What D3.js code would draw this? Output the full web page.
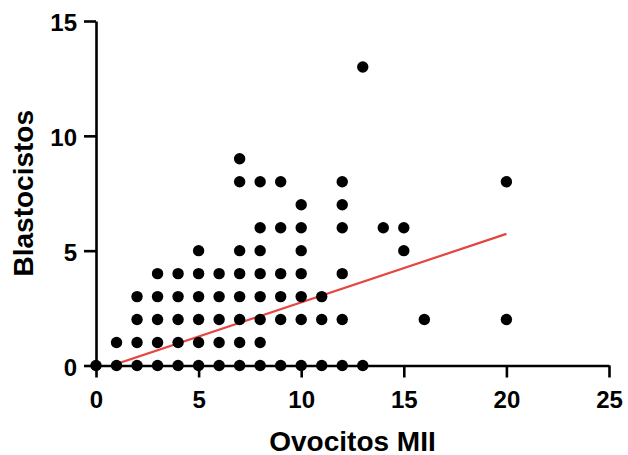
<!DOCTYPE html>
<html>
<head>
<meta charset="utf-8">
<script src="https://cdn.jsdelivr.net/npm/d3@7"></script>
<style>
  html, body { margin: 0; padding: 0; background: #fff; }
  svg { display: block; }
  text { font-family: "Liberation Sans", Arial, Helvetica, sans-serif; font-weight: bold; fill: #000; }
</style>
</head>
<body>
<svg id="chart" width="628" height="455"></svg>
<script>
// MII oocytes retrieved (x) and blastocysts obtained (y), one entry per distinct pair
const ovocitos = [
  0,
  1, 1,
  2, 2, 2, 2,
  3, 3, 3, 3, 3,
  4, 4, 4, 4, 4,
  5, 5, 5, 5, 5, 5,
  6, 6, 6, 6, 6,
  7, 7, 7, 7, 7, 7, 7, 7,
  8, 8, 8, 8, 8, 8, 8, 8,
  9, 9, 9, 9, 9, 9,
  10, 10, 10, 10, 10, 10, 10,
  11, 11, 11,
  12, 12, 12, 12, 12, 12,
  13, 13,
  14,
  15, 15,
  16,
  20, 20
];
const blastocistos = [
  0,
  0, 1,
  0, 1, 2, 3,
  0, 1, 2, 3, 4,
  0, 1, 2, 3, 4,
  0, 1, 2, 3, 4, 5,
  0, 1, 2, 3, 4,
  0, 1, 2, 3, 4, 5, 8, 9,
  0, 1, 2, 3, 4, 5, 6, 8,
  0, 2, 3, 4, 6, 8,
  0, 2, 3, 4, 5, 6, 7,
  0, 2, 3,
  0, 2, 4, 6, 7, 8,
  0, 13,
  6,
  5, 6,
  2,
  2, 8
];

// Linear fit: blastocistos = slope * ovocitos + intercept
const fitSlope = 0.298;
const fitIntercept = -0.23;
const fitRange = [0, 20];

const xTicks = [0, 5, 10, 15, 20, 25];
const yTicks = [0, 5, 10, 15];
const xTitle = "Ovocitos MII";
const yTitle = "Blastocistos";

const svg = d3.select("#chart");
const plotLeft = 96, plotRight = 609, plotTop = 21, plotBottom = 365.5;

const x = d3.scaleLinear().domain([0, 25]).range([plotLeft, plotRight]);
const y = d3.scaleLinear().domain([0, 15]).range([plotBottom, plotTop]);

// Clip region for the fit line
svg.append("clipPath").attr("id", "plot-clip")
  .append("rect")
  .attr("x", plotLeft).attr("y", plotTop)
  .attr("width", plotRight - plotLeft).attr("height", plotBottom - plotTop);

// Regression line
const fitPts = fitRange.map(v => [v, fitSlope * v + fitIntercept]);
svg.append("path")
  .attr("clip-path", "url(#plot-clip)")
  .attr("d", d3.line().x(d => x(d[0])).y(d => y(d[1]))(fitPts))
  .attr("fill", "none")
  .attr("stroke", "#e8433f")
  .attr("stroke-width", 2.2);

// Axes
const xAxis = svg.append("g")
  .attr("transform", `translate(0,${plotBottom})`)
  .call(d3.axisBottom(x).tickValues(xTicks).tickSize(12).tickPadding(13).tickSizeOuter(0));
const yAxis = svg.append("g")
  .attr("transform", `translate(${plotLeft},0)`)
  .call(d3.axisLeft(y).tickValues(yTicks).tickSize(12).tickPadding(7).tickSizeOuter(0));

[xAxis, yAxis].forEach(g => {
  g.select(".domain").attr("stroke", "#000").attr("stroke-width", 2.6);
  g.selectAll(".tick line").attr("stroke", "#000").attr("stroke-width", 2.6);
  g.selectAll(".tick text")
    .attr("font-size", 24)
    .attr("font-family", "'Liberation Sans', Arial, Helvetica, sans-serif")
    .attr("font-weight", "bold")
    .attr("fill", "#000");
});
yAxis.selectAll(".tick text").attr("dy", "0.40em");

// Data points
svg.append("g")
  .selectAll("circle")
  .data(ovocitos.map((v, i) => [v, blastocistos[i]]))
  .join("circle")
  .attr("cx", d => x(d[0]))
  .attr("cy", d => y(d[1]))
  .attr("r", 5.7)
  .attr("fill", "#000");

// Axis titles
svg.append("text")
  .attr("x", (plotLeft + plotRight) / 2)
  .attr("y", 450.5)
  .attr("text-anchor", "middle")
  .attr("font-size", 28)
  .text(xTitle);

svg.append("text")
  .attr("transform", `translate(32.5,${(plotTop + plotBottom) / 2}) rotate(-90)`)
  .attr("text-anchor", "middle")
  .attr("font-size", 28)
  .text(yTitle);
</script>
</body>
</html>
